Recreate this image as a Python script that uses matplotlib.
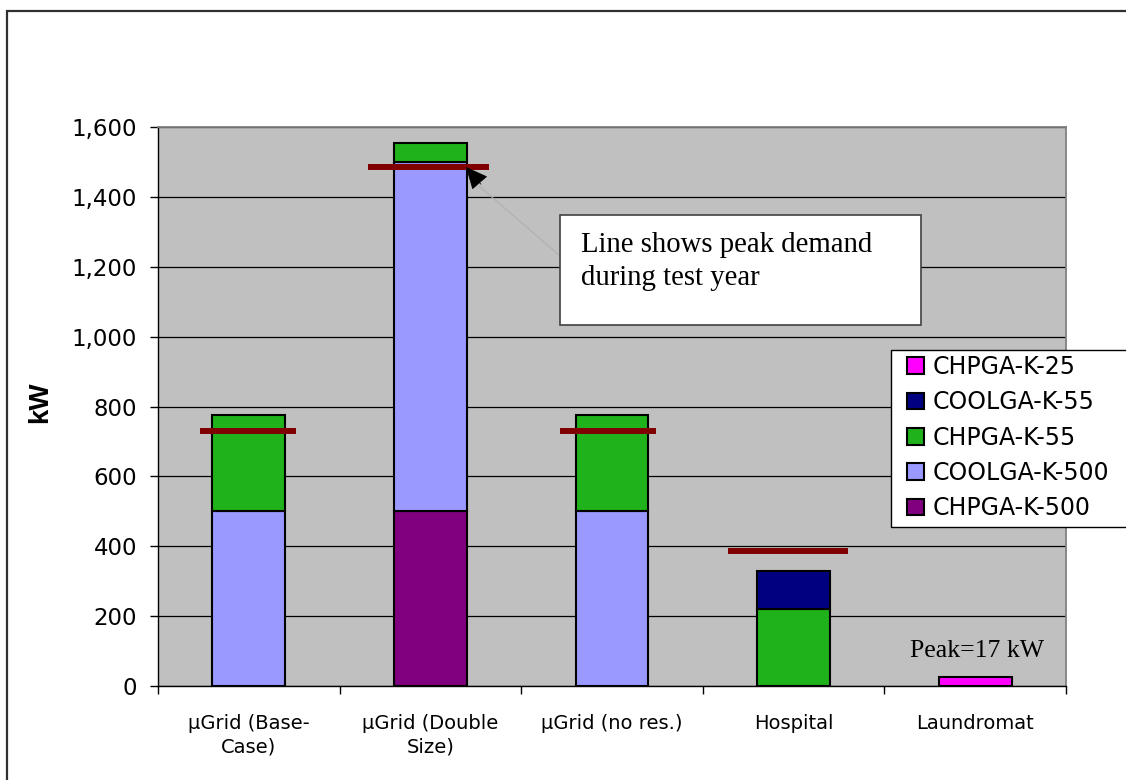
import matplotlib
matplotlib.use("Agg")
import matplotlib.pyplot as plt
import numpy as np
from matplotlib.patches import Rectangle
from matplotlib.ticker import FuncFormatter, FixedLocator

# ---- data -------------------------------------------------------------
categories = ["\u00b5Grid (Base-\nCase)", "\u00b5Grid (Double\nSize)",
              "\u00b5Grid (no res.)", "Hospital", "Laundromat"]

# installed capacity (kW) by technology, listed bottom to top of each stack
chpga_k_500 = [0, 500, 0, 0, 0]
coolga_k_500 = [500, 1000, 500, 0, 0]
chpga_k_55 = [275, 55, 275, 220, 0]
coolga_k_55 = [0, 0, 0, 110, 0]
chpga_k_25 = [0, 0, 0, 0, 25]

series_names = ["CHPGA-K-500", "COOLGA-K-500", "CHPGA-K-55", "COOLGA-K-55", "CHPGA-K-25"]
series_values = [chpga_k_500, coolga_k_500, chpga_k_55, coolga_k_55, chpga_k_25]
series_colors = ["#800080", "#9999FF", "#20B21A", "#000080", "#FF00FF"]

# peak demand during the test year (kW)
peak_demand = [730, 1485, 730, 385, 17]
laundromat_peak = peak_demand[4]

yticks = [0, 200, 400, 600, 800, 1000, 1200, 1400, 1600]

note_lines = ["Line shows peak demand", "during test year"]

# ---- figure -----------------------------------------------------------
W, H = 1126, 780
fig = plt.figure(figsize=(W / 100, H / 100), dpi=100)
fig.patch.set_facecolor("white")

ax = fig.add_axes([158 / W, 1 - 686 / H, 908 / W, 559 / H])
ax.set_facecolor("#C0C0C0")

x = np.arange(len(categories))
bottom = np.zeros(len(categories))
handles = []
for name, vals, col in zip(series_names, series_values, series_colors):
    vals = np.asarray(vals, dtype=float)
    mask = vals > 0
    h = ax.bar(x[mask], vals[mask], width=0.40, bottom=bottom[mask], color=col,
               edgecolor="black", linewidth=1.5, zorder=3, label=name)
    handles.append(h)
    bottom += vals

# peak demand markers (horizontal line segments)
line_half = [0.264, 0.333, 0.264, 0.33]
line_shift = [-0.005, -0.011, -0.02, -0.03]
for i in range(4):
    c = x[i] + line_shift[i]
    ax.plot([c - line_half[i], c + line_half[i]], [peak_demand[i]] * 2,
            color="#800000", linewidth=4.3, solid_capstyle="butt", zorder=4)

ax.set_xlim(-0.5, len(categories) - 0.5)
ax.set_ylim(0, 1600)

# grid and spines
ax.yaxis.set_major_locator(FixedLocator(yticks))
ax.yaxis.set_major_formatter(FuncFormatter(lambda v, p: f"{int(v):,}"))
ax.grid(axis="y", color="black", linewidth=0.9, zorder=1)
ax.set_axisbelow(True)
for s in ["top", "right"]:
    ax.spines[s].set_color("#808080")
    ax.spines[s].set_linewidth(1.3)
for s in ["left", "bottom"]:
    ax.spines[s].set_color("black")
    ax.spines[s].set_linewidth(1.0)

ax.set_xticks(x)
ax.set_xticklabels(categories, fontsize=14, family="DejaVu Sans", linespacing=1.32)
ax.set_xticks(np.arange(-0.5, len(categories), 1.0), minor=True)
ax.tick_params(axis="x", which="major", length=0, pad=20)
ax.tick_params(axis="x", which="minor", length=6, width=1, direction="out")
ax.tick_params(axis="y", which="major", length=6, width=1, direction="out", pad=9,
               labelsize=16.5)
for lbl in ax.get_yticklabels():
    lbl.set_family("DejaVu Sans")

# y axis title
fig.text(40 / W, 1 - 402 / H, "kW", rotation=90, ha="center", va="center",
         fontsize=20, fontweight="bold", family="Liberation Sans")

# note box with arrow to the double-size peak line
ax.add_patch(Rectangle((1.714, 1033), 3.70 - 1.714, 1348 - 1033, facecolor="white",
                       edgecolor="#404040", linewidth=1.2, zorder=5))
for line, yb in zip(note_lines, [1242, 1148]):
    ax.text(1.829, yb, line, ha="left", va="baseline",
            fontsize=20.7, family="Liberation Serif", zorder=6)
ax.plot([1.714, 1.27], [1231, 1430], color="#B0B0B0", linewidth=0.8, zorder=4.5)
ax.annotate("", xy=(1.196, 1485.5), xytext=(1.2786, 1436),
            arrowprops=dict(arrowstyle="-|>,head_length=1.43,head_width=0.66",
                            mutation_scale=10, facecolor="black", edgecolor="black",
                            linewidth=0.5, shrinkA=0, shrinkB=0),
            zorder=5)

ax.text(4.01, 83, f"Peak={laundromat_peak} kW", ha="center", va="baseline",
        fontsize=18.5, family="Liberation Serif", zorder=6)

# legend (top of stack listed first) with its own frame
fig.patches.append(Rectangle((891 / W, 1 - 527 / H), 0.3, (527 - 350) / H,
                             transform=fig.transFigure, facecolor="white",
                             edgecolor="black", linewidth=1.0, zorder=4))
leg = fig.legend(handles[::-1], series_names[::-1], loc="upper left",
                 bbox_to_anchor=(907 / W, 1 - 355 / H), frameon=False,
                 prop={"family": "DejaVu Sans", "size": 17},
                 handlelength=0.72, handleheight=0.72, handletextpad=0.36,
                 labelspacing=0.48, borderpad=0.0, borderaxespad=0)
leg.set_zorder(6)

# outer frame around the chart
fig.patches.append(Rectangle((6.5 / W, -0.05), 1.1, 0.05 + 1 - 11 / H,
                             transform=fig.transFigure, fill=False,
                             edgecolor="#303030", linewidth=1.6))

fig.savefig("out.png", dpi=100)
